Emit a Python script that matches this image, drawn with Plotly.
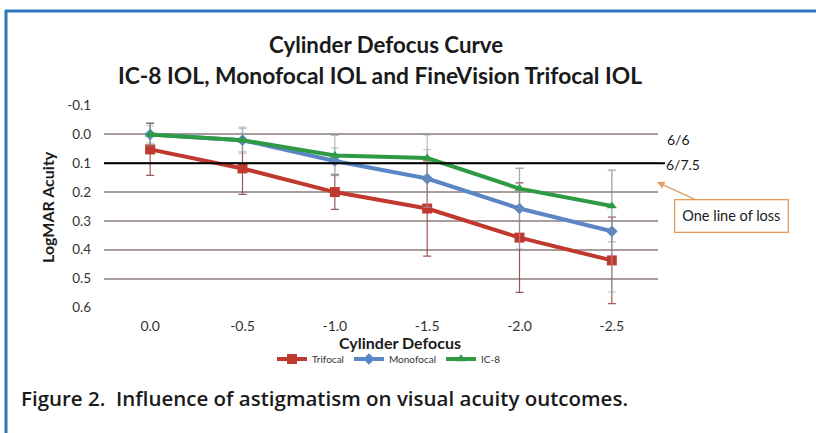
import plotly.graph_objects as go

categories = ["0.0", "-0.5", "-1.0", "-1.5", "-2.0", "-2.5"]
trifocal = [0.052, 0.118, 0.200, 0.257, 0.358, 0.437]
trifocal_err = [0.09, 0.09, 0.06, 0.165, 0.19, 0.15]
monofocal = [0.0, 0.02, 0.092, 0.153, 0.257, 0.336]
monofocal_err = [0.03, 0.04, 0.045, 0.10, 0.14, 0.21]
ic8 = [0.0, 0.02, 0.073, 0.082, 0.188, 0.248]
ic8_err = [0.04, 0.045, 0.07, 0.08, 0.07, 0.125]
y_ticks = [-0.1, 0.0, 0.1, 0.2, 0.3, 0.4, 0.5, 0.6]
y_ticklabels = ["-0.1", "0.0", "0.1", "0.2", "0.3", "0.4", "0.5", "0.6"]

# plot area in pixels
L, R, T, B = 104, 658, 105, 308
W, H = 816, 433
def px(x):
    return (x - L) / (R - L)
def py(y):
    return (B - y) / (B - T)

FONT = "Lato"
fig = go.Figure()

series = [
    ("Trifocal", trifocal, trifocal_err, "#c0392f", "square", 10, "rgba(140,60,60,0.85)"),
    ("Monofocal", monofocal, monofocal_err, "#5b86c5", "diamond", 9, "rgba(150,170,200,0.6)"),
    ("IC-8", ic8, ic8_err, "#2f9a44", "triangle-up", 9, "rgba(130,150,130,0.6)"),
]
for name, vals, err, col, sym, size, ecol in series:
    fig.add_trace(go.Scatter(
        x=categories, y=vals, name=name, mode="lines+markers",
        line=dict(color=col, width=4),
        marker=dict(symbol=sym, size=size, color=col),
        error_y=dict(type="data", array=err, visible=True, color=ecol, thickness=1.2, width=4),
    ))

shapes = [
    dict(type="line", xref="paper", yref="y", x0=0, x1=px(665), y0=0.1, y1=0.1,
         line=dict(color="black", width=2.2)),
    dict(type="line", xref="paper", yref="paper", x0=px(5), x1=px(820), y0=py(11), y1=py(11),
         line=dict(color="#2a76bb", width=3)),
    dict(type="line", xref="paper", yref="paper", x0=px(6), x1=px(6), y0=py(10), y1=py(440),
         line=dict(color="#2a76bb", width=3)),
]

annotations = [
    dict(text="Cylinder Defocus Curve", x=px(386), y=py(44), xref="paper", yref="paper",
         showarrow=False, font=dict(family=FONT, size=22.3, color="#1a1a1a", weight="bold"),
         xanchor="center", yanchor="middle"),
    dict(text="IC-8 IOL, Monofocal IOL and FineVision Trifocal IOL", x=px(380), y=py(75),
         xref="paper", yref="paper", showarrow=False,
         font=dict(family=FONT, size=22.8, color="#1a1a1a", weight="bold"),
         xanchor="center", yanchor="middle"),
    dict(text="Cylinder Defocus", x=px(400), y=py(342), xref="paper", yref="paper",
         showarrow=False, font=dict(family=FONT, size=16, color="#1a1a1a", weight="bold"),
         xanchor="center", yanchor="middle"),
    dict(text="LogMAR Acuity", x=px(47), y=py(207), xref="paper", yref="paper", textangle=-90,
         showarrow=False, font=dict(family=FONT, size=16, color="#1a1a1a", weight="bold"),
         xanchor="center", yanchor="middle"),
    dict(text="6/6", x=px(665), y=py(139), xref="paper", yref="paper", showarrow=False,
         font=dict(family=FONT, size=14, color="#1a1a1a"), xanchor="left", yanchor="middle"),
    dict(text="6/7.5", x=px(664), y=py(164), xref="paper", yref="paper", showarrow=False,
         font=dict(family=FONT, size=14, color="#1a1a1a"), xanchor="left", yanchor="middle"),
    dict(text="One line of loss", x=px(657), y=py(182), xref="paper", yref="paper",
         showarrow=True, arrowhead=2, arrowsize=1, arrowwidth=1.5, arrowcolor="#e0a060",
         ax=74, ay=34, bordercolor="#e39a5a", borderwidth=1.3, borderpad=7, bgcolor="white",
         font=dict(family=FONT, size=14.5, color="#1a1a1a")),
    dict(text="Figure 2.  Influence of astigmatism on visual acuity outcomes.", x=px(19),
         y=py(398), xref="paper", yref="paper", showarrow=False,
         font=dict(family="Open Sans", size=20.5, color="#1a1a1a", weight=600),
         xanchor="left", yanchor="middle"),
]

fig.update_layout(
    width=W, height=H,
    margin=dict(l=L, r=W - R, t=T, b=H - B),
    paper_bgcolor="white", plot_bgcolor="white",
    font=dict(family=FONT, size=13, color="#333333"),
    showlegend=True,
    legend=dict(orientation="h", x=px(389), y=py(359), xanchor="center", yanchor="middle",
                font=dict(family=FONT, size=10, color="#333333"), itemwidth=30,
                tracegroupgap=0, bgcolor="rgba(0,0,0,0)"),
    shapes=shapes,
    annotations=annotations,
    xaxis=dict(type="category", categoryorder="array", categoryarray=categories,
               range=[-0.5, 5.5], showgrid=False, zeroline=False, showline=False,
               ticks="", tickfont=dict(family=FONT, size=14, color="#333333"),
               ticklabelstandoff=8),
    yaxis=dict(range=[0.602, -0.102], tickvals=y_ticks, ticktext=y_ticklabels,
               showgrid=True, gridcolor="#a89c9c", gridwidth=1.5, zeroline=False,
               showline=False, ticks="", tickfont=dict(family=FONT, size=13.5, color="#333333"),
               ticklabelstandoff=12),
)

fig.write_html("out.html", config={"displayModeBar": False},
               post_script="document.body.style.margin='0';document.body.style.overflow='hidden';")
